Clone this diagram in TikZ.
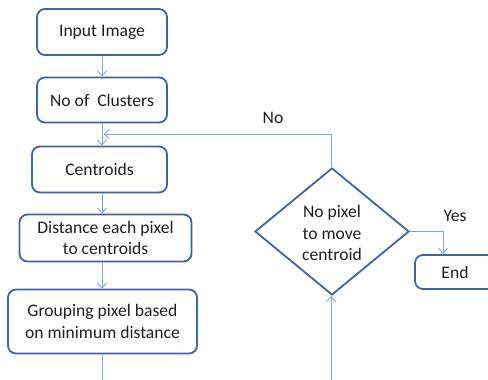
\documentclass[tikz,border=0pt]{standalone}
\usepackage{fontspec}
\setmainfont{Carlito}
\usetikzlibrary{arrows.meta,shapes.geometric}
\definecolor{boxline}{RGB}{66,100,150}
\definecolor{conn}{RGB}{130,165,212}
\definecolor{txt}{RGB}{30,30,30}
\begin{document}
\begin{tikzpicture}[x=1pt,y=-1pt,
  font=\fontsize{17.6}{21.5}\selectfont,
  procbox/.style={draw=boxline,line width=1.8pt,rounded corners=8pt,fill=white,
    inner sep=0pt,align=center,text=txt},
  decbox/.style={draw=boxline,line width=1.8pt,diamond,inner sep=0pt},
  lbl/.style={text=txt,inner sep=0pt},
  conn/.style={draw=conn,line width=0.9pt},
  carrow/.style={conn,-{Straight Barb[length=5pt,width=9pt,line width=0.9pt]}}]
\useasboundingbox (0,0) rectangle (488,380);
\node[procbox,minimum width=130pt,minimum height=46pt] (inp) at (102,32) {Input Image};
\node[procbox,minimum width=130pt,minimum height=45pt] (noc) at (102,100) {No of\ \ Clusters};
\node[procbox,minimum width=135pt,minimum height=46pt] (cen) at (99.5,169.5) {Centroids};
\node[procbox,minimum width=172pt,minimum height=47pt] (dist) at (105.5,238) {Distance each pixel\\to centroids};
\node[procbox,minimum width=189pt,minimum height=64pt] (grp) at (102.5,321.5) {Grouping pixel based\\on minimum distance};
\node[decbox,minimum width=154pt,minimum height=127pt] (dia) at (332,231.5) {};
\node[lbl,align=center] (diatext) at (332,233) {No pixel\\to move\\centroid};
\node[procbox,minimum width=80pt,minimum height=34pt] (endb) at (455,272) {End};
\node[lbl] (nolbl) at (273,118) {No};
\node[lbl] (yeslbl) at (455,216) {Yes};
\coordinate (fb) at (103.5,134);
\coordinate (yesc) at (443,254);
\coordinate (bot1) at (102,381);
\coordinate (bot2) at (331,381);
\draw[carrow] (inp.south) -- (noc.north);
\draw[carrow] (noc.south) -- (noc.south |- cen.north);
\draw[carrow] (noc.south |- cen.south) -- (noc.south |- dist.north);
\draw[carrow] (noc.south |- dist.south) -- (noc.south |- grp.north);
\draw[conn] (noc.south |- grp.south) -- (bot1);
\draw[carrow] (bot2) -- (dia.south -| bot2);
\draw[carrow] (dia.north -| bot2) |- (fb);
\draw[carrow] (dia.east) -| (yesc);
\end{tikzpicture}
\end{document}
